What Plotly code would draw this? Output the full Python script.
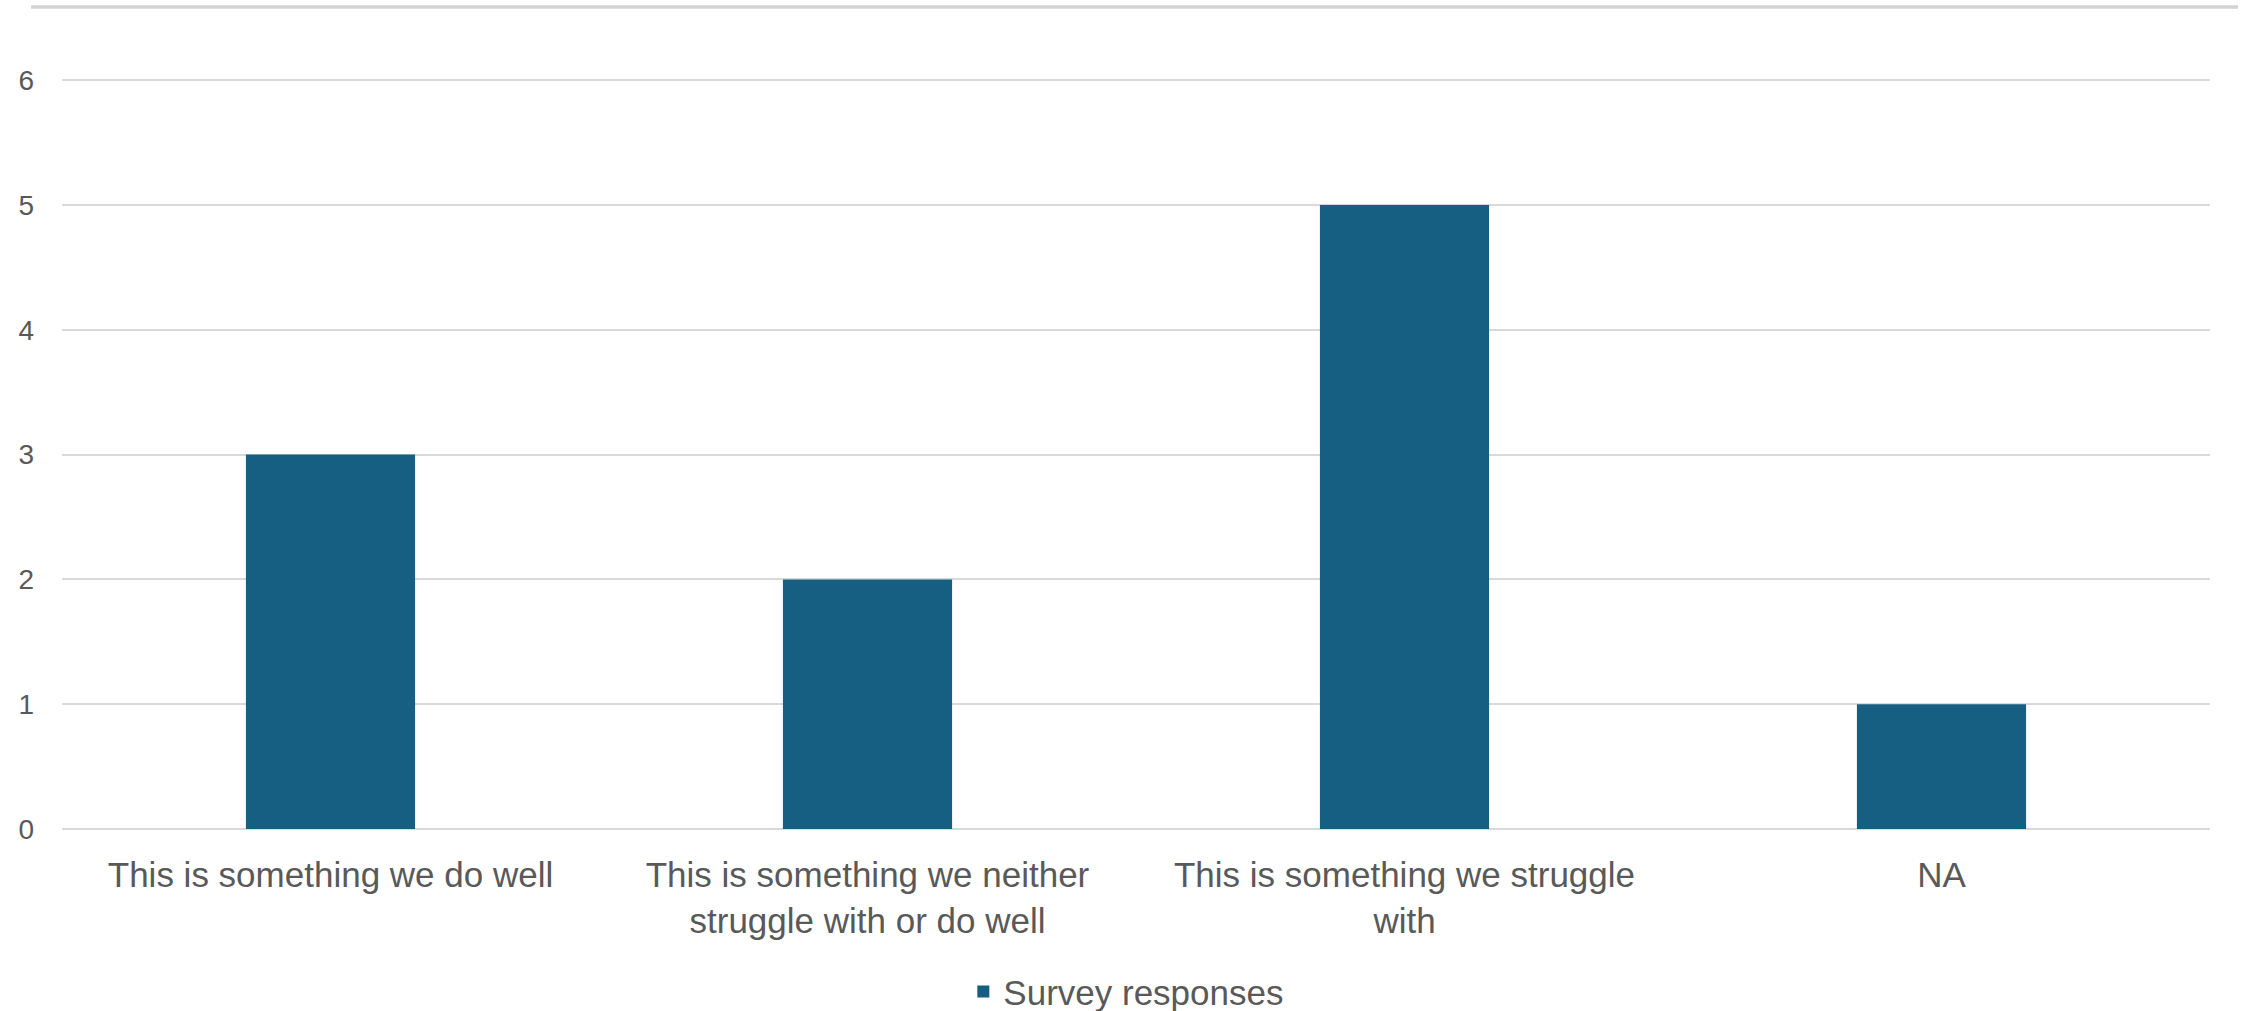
import plotly.graph_objects as go

categories = [
    "This is something we do well",
    "This is something we neither struggle with or do well",
    "This is something we struggle with",
    "NA",
]
tick_labels = [
    "This is something we do well",
    "This is something we neither<br>struggle with or do well",
    "This is something we struggle<br>with",
    "NA",
]
values = [3, 2, 5, 1]
series_name = "Survey responses"
y_ticks = [0, 1, 2, 3, 4, 5, 6]

BAR = "#175F82"
TXT = "#595959"
GRID = "#D9D9D9"
FONT = "Liberation Sans, Arial, sans-serif"

fig = go.Figure(
    go.Bar(
        x=categories,
        y=values,
        name=series_name,
        marker=dict(color=BAR, line=dict(width=0)),
        showlegend=True,
    )
)

fig.update_layout(
    width=2254,
    height=1011,
    margin=dict(l=62, r=44, t=79, b=182, autoexpand=False),
    paper_bgcolor="white",
    plot_bgcolor="white",
    bargap=0.685,
    font=dict(family=FONT, color=TXT),
    showlegend=True,
    legend=dict(
        orientation="h",
        x=0.4955,
        xanchor="center",
        y=-0.217,
        yanchor="middle",
        font=dict(size=35, color=TXT, family=FONT),
        itemwidth=30,
    ),
    hovermode=False,
)

fig.update_xaxes(
    tickmode="array",
    tickvals=categories,
    ticktext=tick_labels,
    tickfont=dict(size=35, color=TXT, family=FONT),
    showgrid=False,
    showline=False,
    zeroline=False,
    ticks="",
    ticklabelstandoff=22,
    automargin=False,
)

fig.update_yaxes(
    range=[0, 6.01],
    tickmode="array",
    tickvals=y_ticks,
    tickfont=dict(size=28, color=TXT, family=FONT),
    showgrid=True,
    gridcolor=GRID,
    gridwidth=2,
    zeroline=True,
    zerolinecolor=GRID,
    zerolinewidth=2,
    showline=False,
    ticks="",
    ticklabelstandoff=27,
    automargin=False,
)

# chart-area border remnant at the top of the image
fig.add_shape(
    type="line",
    xref="paper",
    yref="paper",
    x0=-0.0144,
    x1=1.013,
    y0=1.096,
    y1=1.096,
    line=dict(color="#D3D3D3", width=3.5),
)

fig.write_html(
    "out.html",
    config={"displayModeBar": False},
    post_script="document.body.style.margin='0';",
)
